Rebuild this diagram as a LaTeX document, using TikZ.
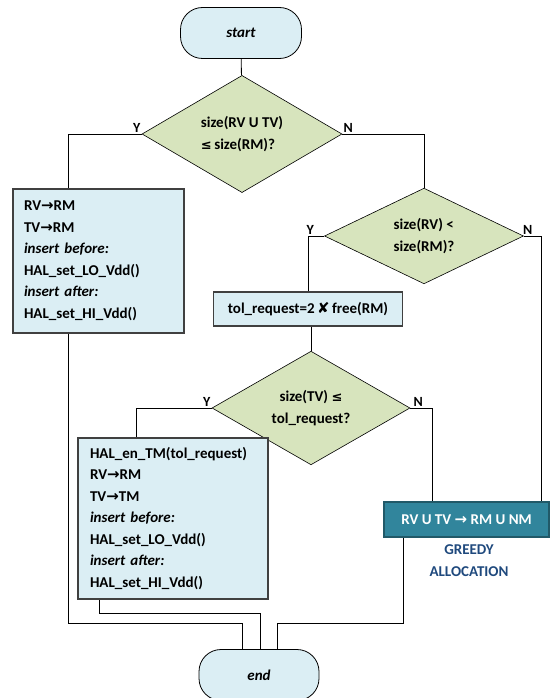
\documentclass[tikz,border=0pt]{standalone}
\usepackage{fontspec}
\setmainfont{Carlito}
\newfontfamily\symfont{DejaVu Sans}
\usetikzlibrary{shapes.geometric}
\pgfdeclarelayer{bg}
\pgfsetlayers{bg,main}
\definecolor{boxblue}{RGB}{219,238,244}
\definecolor{condgreen}{RGB}{215,228,189}
\definecolor{greedyteal}{RGB}{49,133,156}
\definecolor{greedyedge}{RGB}{33,89,104}
\definecolor{greedytext}{RGB}{31,73,125}
\newcommand{\rarr}{{\symfont\bfseries\fontsize{15}{15}\selectfont →}}
\newcommand{\leqsym}{{\symfont\fontsize{13}{13}\selectfont ≤}}
\newcommand{\timessym}{{\symfont\fontsize{15}{15}\selectfont ✘}}
\tikzset{
    every node/.style={font=\fontsize{15}{21.5}\selectfont\bfseries},
    term/.style={rectangle, rounded corners=22pt, draw, line width=0.8pt, fill=boxblue,
        minimum width=121pt, minimum height=51pt, font=\fontsize{15}{21.5}\selectfont\bfseries\itshape},
    decision/.style={diamond, draw, line width=0.6pt, fill=condgreen, inner sep=0pt,
        minimum width=200pt, minimum height=92pt},
    process/.style={rectangle, draw=black!75, line width=1.1pt, fill=boxblue, align=left},
    greedybox/.style={rectangle, draw=greedyedge, line width=1.3pt, fill=greedyteal, text=white,
        minimum width=165pt, minimum height=35pt, inner sep=0pt},
    yn/.style={font=\fontsize{14}{14}\selectfont\bfseries, inner sep=1pt},
    flow/.style={line width=0.8pt}
}

\begin{document}
\begin{tikzpicture}[x=1pt, y=-1pt]
        \useasboundingbox (0,0) rectangle (551,698);
        \node (start) [term] at (241, 33) {start};
        \node (d1) [decision, align=left] at (242, 134) {size(RV U TV)\\\leqsym\,size(RM)?};
        \node (box1) [process, text width=149pt, inner xsep=11pt, minimum height=144pt] at (98.5, 261) {RV\rarr RM\\TV\rarr RM\\\textit{insert before:}\\HAL\_set\_LO\_Vdd()\\\textit{insert after:}\\HAL\_set\_HI\_Vdd()};
        \node (d2) [decision, align=left, minimum width=199pt] at (424, 236) {size(RV) <\\size(RM)?};
        \node (box2) [process, minimum width=189pt, minimum height=34pt, inner sep=0pt] at (308, 309) {tol\_request=2\,\timessym\,free(RM)};
        \node (d3) [decision, align=center, minimum width=198pt] at (311, 408) {size(TV) \leqsym\\tol\_request?};
        \node (box3) [process, text width=166pt, inner xsep=12pt, minimum height=161pt] at (173, 518.5) {HAL\_en\_TM(tol\_request)\\RV\rarr RM\\TV\rarr TM\\\textit{insert before:}\\HAL\_set\_LO\_Vdd()\\\textit{insert after:}\\HAL\_set\_HI\_Vdd()};
        \node (greedy) [greedybox] at (466.5, 519.5) {RV U TV \rarr\ RM U NM};
        \node (greedylbl) [text=greedytext, align=center] at (469, 560.5) {GREEDY\\ALLOCATION};
        \node (end) [term, minimum width=120pt] at (259, 675) {end};
        \node (y1) [yn, anchor=south east] at (d1.west) {Y};
        \node (n1) [yn, anchor=south west] at (d1.east) {N};
        \node (y2) [yn, anchor=south east, xshift=-9pt] at (d2.west) {Y};
        \node (n2) [yn, anchor=south west, xshift=-2pt] at (d2.east) {N};
        \node (y3) [yn, anchor=south east] at (d3.west) {Y};
        \node (n3) [yn, anchor=south west, xshift=2pt] at (d3.east) {N};
        \begin{pgfonlayer}{bg}
                \draw [flow] (start) -- (d1);
                \draw [flow] (d1.west) -| ([xshift=-30.5pt]box1.north);
                \draw [flow] (d1.east) -| (d2.north);
                \draw [flow] (d2.west) -| (box2.north);
                \draw [flow] (d2.east) -| ([xshift=74.5pt]greedy.north);
                \draw [flow] (d3.north |- box2.south) -- (d3.north);
                \draw [flow] (d3.west) -| ([xshift=-37pt]box3.north);
                \draw [flow] (d3.east) -| ([xshift=-34.5pt]greedy.north);
                \draw [flow] ([xshift=-30.5pt]box1.south) |- ([xshift=-17pt, yshift=26pt]end.north) -- ([xshift=-17pt]end.north);
                \draw [flow] ([xshift=-74pt]box3.south) |- ([xshift=1pt, yshift=36pt]end.north) -- ([xshift=1pt]end.north);
                \draw [flow] ([xshift=-63.5pt]greedy.south) |- ([xshift=18pt, yshift=26pt]end.north) -- ([xshift=18pt]end.north);
        \end{pgfonlayer}
\end{tikzpicture}
\end{document}
